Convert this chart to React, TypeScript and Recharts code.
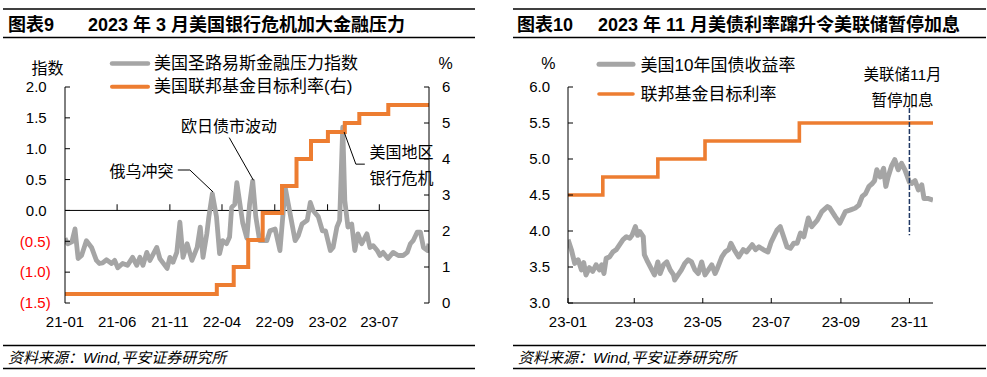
import React from 'react';
import { LineChart, Line, XAxis, YAxis, ReferenceLine } from 'recharts';

const FONT = '"Liberation Sans", Arial, "Noto Sans CJK SC", sans-serif';
const GRAY = '#A5A5A5';
const ORANGE = '#ED7D31';
const NAVY = '#203864';

// ---------- 图表9: 美国圣路易斯金融压力指数 & 联邦基金目标利率 ----------
const stressDates = [
  '2021-01-01','2021-01-09','2021-01-21','2021-01-30','2021-02-08','2021-02-18','2021-03-04','2021-03-19',
  '2021-04-02','2021-04-11','2021-04-20','2021-05-01','2021-05-16','2021-05-25','2021-06-03','2021-06-17',
  '2021-07-01','2021-07-16','2021-07-28','2021-08-06','2021-08-15','2021-08-26','2021-09-04','2021-09-24',
  '2021-10-03','2021-10-24','2021-11-01','2021-11-10','2021-11-21','2021-11-30','2021-12-09','2021-12-21',
  '2022-01-04','2022-01-19','2022-01-28','2022-02-05','2022-02-16','2022-02-22','2022-03-04','2022-03-16',
  '2022-03-25','2022-04-03','2022-04-14','2022-04-23','2022-04-29','2022-05-08','2022-05-14','2022-05-31',
  '2022-06-12','2022-06-20','2022-06-29','2022-07-08','2022-07-19','2022-08-09','2022-08-18','2022-09-02',
  '2022-09-16','2022-09-25','2022-10-01','2022-10-10','2022-10-21','2022-10-30','2022-11-08','2022-11-19',
  '2022-12-04','2022-12-13','2022-12-21','2023-01-05','2023-01-17','2023-01-26','2023-02-09','2023-02-17',
  '2023-02-28','2023-03-08','2023-03-17','2023-03-23','2023-04-01','2023-04-12','2023-04-21','2023-04-30',
  '2023-05-11','2023-05-26','2023-06-04','2023-06-13','2023-06-25','2023-07-03','2023-07-12','2023-07-26',
  '2023-08-10','2023-08-25','2023-09-08','2023-09-20','2023-09-29','2023-10-07','2023-10-19','2023-10-28',
  '2023-11-06','2023-11-18','2023-11-22',
];
const stressValues = [
  -0.45,-0.54,-0.51,-0.30,-0.78,-0.73,-0.49,-0.60,
  -0.81,-0.86,-0.85,-0.80,-0.86,-0.81,-0.93,-0.86,
  -0.89,-0.76,-0.89,-0.76,-0.89,-0.68,-0.81,-0.60,
  -0.78,-0.94,-0.76,-0.84,-0.68,-0.19,-0.76,-0.54,
  -0.81,-0.60,-0.27,-0.76,-0.38,-0.10,0.27,-0.10,
  -0.70,-0.49,-0.54,-0.43,0.05,0.10,0.45,-0.20,
  -0.45,0.10,0.48,-0.10,-0.49,-0.49,-0.33,-0.30,
  -0.65,-0.05,0.38,0.11,-0.22,-0.49,-0.41,-0.22,
  -0.16,0.13,0.00,-0.10,-0.33,-0.33,-0.65,-0.60,
  -0.27,-0.16,1.35,0.16,-0.27,-0.22,-0.65,-0.38,
  -0.54,-0.38,-0.60,-0.57,-0.65,-0.73,-0.68,-0.78,
  -0.68,-0.73,-0.73,-0.68,-0.54,-0.49,-0.35,-0.35,
  -0.60,-0.65,-0.54,
];
const fedLeftDates = ['2021-01-01','2022-03-17','2022-05-05','2022-06-16','2022-07-28','2022-09-22','2022-11-03','2022-12-15','2023-02-02','2023-03-23','2023-05-04','2023-07-27','2023-11-22'];
const fedLeftRates = [0.25, 0.5, 1.0, 1.75, 2.5, 3.25, 4.0, 4.5, 4.75, 5.0, 5.25, 5.5, 5.5];
const leftTickDates = ['2021-01-01','2021-06-01','2021-11-01','2022-04-01','2022-09-01','2023-02-01','2023-07-01'];
const leftTickLabels = ['21-01','21-06','21-11','22-04','22-09','23-02','23-07'];
const stressAxisTicks = [-1.5, -1, -0.5, 0, 0.5, 1, 1.5, 2];
const rateAxisTicks = [0, 1, 2, 3, 4, 5, 6];
const leftEndDate = '2023-11-22';
const leaderRussia = { dates: ['2021-11-24','2021-12-29','2022-03-06'], values: [0.655, 0.655, 0.30] };
const leaderEuroJapan = { dates: ['2022-04-22','2022-07-01'], values: [1.18, 0.49] };
const leaderBank = { dates: ['2023-05-20','2023-04-24','2023-03-21'], values: [0.75, 0.75, 1.27] };

// ---------- 图表10: 美国10年国债收益率 & 联邦基金目标利率 ----------
const yieldYear = '2023';
const yieldDates = [
  '01-01','01-04','01-07','01-10','01-13','01-15','01-17','01-20','01-23','01-26','01-29','01-31',
  '02-02','02-04','02-07','02-10','02-13','02-16','02-19','02-22','02-25','02-27',
  '03-02','03-04','03-06','03-09','03-10','03-13','03-16','03-19','03-22','03-24','03-27','03-30',
  '04-02','04-05','04-06','04-09','04-12','04-15','04-18','04-21','04-24','04-27','04-30',
  '05-03','05-06','05-09','05-12','05-14','05-18','05-21','05-24','05-26','05-29',
  '06-02','06-06','06-09','06-14','06-17','06-20','06-24','06-28',
  '07-01','07-06','07-09','07-12','07-15','07-18','07-21','07-24','07-27','07-30',
  '08-03','08-06','08-11','08-15','08-20','08-22','08-27','08-31',
  '09-05','09-09','09-14','09-17','09-20','09-23','09-26','09-29',
  '10-01','10-03','10-06','10-09','10-11','10-13','10-16','10-19','10-22','10-25','10-28',
  '11-01','11-03','11-06','11-09','11-12','11-14','11-18','11-22',
];
const yieldValues = [
  3.88,3.74,3.55,3.60,3.46,3.56,3.39,3.49,3.44,3.53,3.46,3.53,
  3.41,3.62,3.64,3.71,3.74,3.81,3.88,3.92,3.90,3.94,
  4.06,3.94,3.99,3.92,3.67,3.57,3.48,3.39,3.57,3.41,3.53,3.57,
  3.46,3.39,3.32,3.39,3.46,3.55,3.60,3.57,3.46,3.41,3.57,
  3.39,3.46,3.53,3.41,3.48,3.64,3.71,3.74,3.83,3.74,
  3.64,3.74,3.71,3.81,3.74,3.78,3.74,3.71,
  3.85,4.01,4.06,3.92,3.78,3.76,3.83,3.83,3.97,3.92,
  4.18,4.06,4.15,4.27,4.34,4.32,4.20,4.11,
  4.27,4.29,4.32,4.36,4.48,4.52,4.62,4.66,
  4.70,4.85,4.75,4.87,4.62,4.75,4.90,4.99,4.85,4.94,4.85,
  4.68,4.66,4.70,4.57,4.64,4.45,4.45,4.43,
];
const fedRightDates = ['01-01','02-01','03-22','05-03','07-26','11-22'];
const fedRightRates = [4.5, 4.75, 5.0, 5.25, 5.5, 5.5];
const rightTickDates = ['01-01','03-01','05-01','07-01','09-01','11-01'];
const rightTickLabels = ['23-01','23-03','23-05','23-07','23-09','23-11'];
const yieldAxisTicks = [3, 3.5, 4, 4.5, 5, 5.5, 6];
const rightEndDate = '11-22';
const pauseMarker = { date: '11-01', top: 5.71, bottom: 3.94 };

// ---------- helpers ----------
const toDays = (base: string) => (s: string) =>
  Math.round((Date.parse(s + 'T00:00:00Z') - Date.parse(base + 'T00:00:00Z')) / 86400000);
const dayL = toDays('2021-01-01');
const dayRBase = toDays(yieldYear + '-01-01');
const dayR = (md: string) => dayRBase(yieldYear + '-' + md);

const stressData = stressDates.map((d, i) => ({ d: dayL(d), v: stressValues[i] }));
const fedLeftData = fedLeftDates.map((d, i) => ({ d: dayL(d), v: fedLeftRates[i] }));
const leftTicks = leftTickDates.map(dayL);
const yieldData = yieldDates.map((d, i) => ({ d: dayR(d), v: yieldValues[i] }));
const fedRightData = fedRightDates.map((d, i) => ({ d: dayR(d), v: fedRightRates[i] }));
const rightTicks = rightTickDates.map(dayR);

const segmentsOf = (leader: { dates: string[]; values: number[] }) => {
  const out: any[] = [];
  for (let i = 0; i < leader.dates.length - 1; i++) {
    out.push([
      { x: dayL(leader.dates[i]), y: leader.values[i] },
      { x: dayL(leader.dates[i + 1]), y: leader.values[i + 1] },
    ]);
  }
  return out;
};
const leaderSegments = [...segmentsOf(leaderRussia), ...segmentsOf(leaderEuroJapan), ...segmentsOf(leaderBank)];

const StressTick = (props: any) => {
  const { x, y, payload } = props;
  const v = payload.value;
  const neg = v < 0;
  const label = neg ? `(${Math.abs(v).toFixed(1)})` : v.toFixed(1);
  return (
    <text x={neg ? x : x - 4} y={y} dy={5.3} textAnchor="end" fill={neg ? '#FF0000' : '#000'} fontSize={15} fontFamily={FONT}>
      {label}
    </text>
  );
};
const RateTick = (props: any) => {
  const { x, y, payload } = props;
  return (
    <text x={x} y={y} dy={5.3} textAnchor="start" fill="#000" fontSize={15} fontFamily={FONT}>
      {String(payload.value)}
    </text>
  );
};
const YieldTick = (props: any) => {
  const { x, y, payload } = props;
  return (
    <text x={x} y={y} dy={5.3} textAnchor="end" fill="#000" fontSize={15} fontFamily={FONT}>
      {Number(payload.value).toFixed(1)}
    </text>
  );
};
const makeXTick = (ticks: number[], labels: string[], dy: number) => (props: any) => {
  const { x, y, payload } = props;
  const idx = ticks.indexOf(payload.value);
  return (
    <text x={x} y={y} dy={dy} textAnchor="middle" fill="#000" fontSize={15} fontFamily={FONT}>
      {idx >= 0 ? labels[idx] : ''}
    </text>
  );
};
const LeftXTick = makeXTick(leftTicks, leftTickLabels, 23.5);
const RightXTick = makeXTick(rightTicks, rightTickLabels, 28.5);

export default function App() {
  return (
    <div style={{ position: 'absolute', left: 0, top: 0, width: 987, height: 377, background: '#fff', overflow: 'hidden' }}>
      {/* Left chart */}
      <div style={{ position: 'absolute', left: 0, top: 0 }}>
        <LineChart width={487} height={377} margin={{ top: 87, right: 8, bottom: 44, left: 5 }}>
          <XAxis
            type="number"
            dataKey="d"
            domain={[0, dayL(leftEndDate)]}
            ticks={leftTicks}
            interval={0}
            allowDataOverflow
            axisLine={false}
            tickLine={false}
            tickSize={0}
            tickMargin={0}
            height={30}
            tick={LeftXTick}
          />
          <YAxis
            yAxisId="left"
            type="number"
            domain={[-1.5, 2]}
            ticks={stressAxisTicks}
            interval={0}
            allowDataOverflow
            width={60}
            axisLine={{ stroke: '#000', strokeWidth: 1 }}
            tickLine={{ stroke: '#000', strokeWidth: 1 }}
            tickSize={-5}
            tickMargin={19.3}
            tick={StressTick}
          />
          <YAxis
            yAxisId="right"
            orientation="right"
            type="number"
            domain={[0, 6]}
            ticks={rateAxisTicks}
            interval={0}
            allowDataOverflow
            width={50}
            axisLine={{ stroke: '#000', strokeWidth: 1 }}
            tickLine={{ stroke: '#000', strokeWidth: 1 }}
            tickSize={-5}
            tickMargin={18}
            tick={RateTick}
          />
          <ReferenceLine yAxisId="left" y={0} stroke="#000" strokeWidth={1} />
          {leftTicks.slice(1).map((t) => (
            <ReferenceLine key={'zt' + t} yAxisId="left" segment={[{ x: t, y: 0 }, { x: t, y: 0.1 }]} stroke="#000" strokeWidth={1} />
          ))}
          <Line
            yAxisId="left"
            data={stressData}
            dataKey="v"
            type="linear"
            stroke={GRAY}
            strokeWidth={4.8}
            strokeLinejoin="round"
            dot={false}
            activeDot={false}
            isAnimationActive={false}
          />
          <Line
            yAxisId="right"
            data={fedLeftData}
            dataKey="v"
            type="stepAfter"
            stroke={ORANGE}
            strokeWidth={4}
            dot={false}
            activeDot={false}
            isAnimationActive={false}
          />
          {leaderSegments.map((seg, i) => (
            <ReferenceLine key={'ld' + i} yAxisId="left" segment={seg} stroke="#000" strokeWidth={1} />
          ))}
        </LineChart>
      </div>

      {/* Right chart */}
      <div style={{ position: 'absolute', left: 495, top: 0 }}>
        <LineChart width={492} height={377} margin={{ top: 87, right: 54, bottom: 44, left: 13 }}>
          <XAxis
            type="number"
            dataKey="d"
            domain={[0, dayR(rightEndDate)]}
            ticks={rightTicks}
            interval={0}
            allowDataOverflow
            axisLine={{ stroke: '#000', strokeWidth: 1 }}
            tickLine={{ stroke: '#000', strokeWidth: 1 }}
            tickSize={-5}
            tickMargin={0}
            height={30}
            tick={RightXTick}
          />
          <YAxis
            type="number"
            domain={[3, 6]}
            ticks={yieldAxisTicks}
            interval={0}
            allowDataOverflow
            width={60}
            axisLine={{ stroke: '#000', strokeWidth: 1 }}
            tickLine={{ stroke: '#000', strokeWidth: 1 }}
            tickSize={-5}
            tickMargin={23}
            tick={YieldTick}
          />
          <Line
            data={yieldData}
            dataKey="v"
            type="linear"
            stroke={GRAY}
            strokeWidth={5}
            strokeLinejoin="round"
            dot={false}
            activeDot={false}
            isAnimationActive={false}
          />
          <Line
            data={fedRightData}
            dataKey="v"
            type="stepAfter"
            stroke={ORANGE}
            strokeWidth={3.6}
            dot={false}
            activeDot={false}
            isAnimationActive={false}
          />
          <ReferenceLine
            segment={[{ x: dayR(pauseMarker.date), y: pauseMarker.top }, { x: dayR(pauseMarker.date), y: pauseMarker.bottom }]}
            stroke={NAVY}
            strokeWidth={1.5}
            strokeDasharray="5 2"
          />
        </LineChart>
      </div>

      {/* Text overlay: titles, legends, labels, sources */}
      <svg width={987} height={377} style={{ position: 'absolute', left: 0, top: 0, pointerEvents: 'none' }} fontFamily={FONT}>
        <line x1={3} x2={475} y1={9} y2={9} stroke="#000" strokeWidth={1.5} />
        <line x1={3} x2={475} y1={37.5} y2={37.5} stroke="#000" strokeWidth={1.5} />
        <line x1={3} x2={475} y1={345.5} y2={345.5} stroke="#000" strokeWidth={1.5} />
        <line x1={3} x2={475} y1={368.5} y2={368.5} stroke="#000" strokeWidth={1.5} />
        <line x1={513} x2={986} y1={9} y2={9} stroke="#000" strokeWidth={1.5} />
        <line x1={513} x2={986} y1={37.5} y2={37.5} stroke="#000" strokeWidth={1.5} />
        <line x1={513} x2={986} y1={345.5} y2={345.5} stroke="#000" strokeWidth={1.5} />
        <line x1={513} x2={986} y1={368.5} y2={368.5} stroke="#000" strokeWidth={1.5} />

        <text x={8} y={25.3} dominantBaseline="central" fontSize={18} fontWeight="bold" fill="#000">图表9</text>
        <text x={88} y={25.3} dominantBaseline="central" fontSize={18} fontWeight="bold" fill="#000">2023 年 3 月美国银行危机加大金融压力</text>
        <text x={517} y={25.3} dominantBaseline="central" fontSize={18} fontWeight="bold" fill="#000">图表10</text>
        <text x={598} y={25.3} dominantBaseline="central" fontSize={18} fontWeight="bold" fill="#000">2023 年 11 月美债利率蹿升令美联储暂停加息</text>

        <text x={8} y={357} dominantBaseline="central" fontSize={15} fontStyle="italic" fill="#000">资料来源：Wind,平安证券研究所</text>
        <text x={518} y={357} dominantBaseline="central" fontSize={15} fontStyle="italic" fill="#000">资料来源：Wind,平安证券研究所</text>

        <line x1={112} x2={148} y1={63.5} y2={63.5} stroke={GRAY} strokeWidth={4.5} strokeLinecap="round" />
        <text x={154} y={63.5} dominantBaseline="central" fontSize={17} fill="#000">美国圣路易斯金融压力指数</text>
        <line x1={112} x2={148} y1={86.7} y2={86.7} stroke={ORANGE} strokeWidth={4} strokeLinecap="round" />
        <text x={154} y={86.7} dominantBaseline="central" fontSize={17} fill="#000">美国联邦基金目标利率(右)</text>
        <text x={47.5} y={68} dominantBaseline="central" textAnchor="middle" fontSize={16} fill="#000">指数</text>
        <text x={445.7} y={63.3} dominantBaseline="central" textAnchor="middle" fontSize={16} fill="#000">%</text>

        <text x={141.5} y={171.7} dominantBaseline="central" textAnchor="middle" fontSize={16} fill="#000">俄乌冲突</text>
        <text x={229} y={126.7} dominantBaseline="central" textAnchor="middle" fontSize={16} fill="#000">欧日债市波动</text>
        <text x={401.5} y={152.3} dominantBaseline="central" textAnchor="middle" fontSize={16} fill="#000">美国地区</text>
        <text x={401.5} y={178.3} dominantBaseline="central" textAnchor="middle" fontSize={16} fill="#000">银行危机</text>

        <line x1={599} x2={633} y1={64.3} y2={64.3} stroke={GRAY} strokeWidth={5} strokeLinecap="round" />
        <text x={640.5} y={65} dominantBaseline="central" fontSize={17} fill="#000">美国10年国债收益率</text>
        <line x1={599} x2={633} y1={94} y2={94} stroke={ORANGE} strokeWidth={3.6} strokeLinecap="round" />
        <text x={640.5} y={94.2} dominantBaseline="central" fontSize={17} fill="#000">联邦基金目标利率</text>
        <text x={548.3} y={63.3} dominantBaseline="central" textAnchor="middle" fontSize={16} fill="#000">%</text>

        <text x={902.5} y={74} dominantBaseline="central" textAnchor="middle" fontSize={15.5} fill="#000">美联储11月</text>
        <text x={902.5} y={100} dominantBaseline="central" textAnchor="middle" fontSize={15.5} fill="#000">暂停加息</text>
      </svg>
    </div>
  );
}
